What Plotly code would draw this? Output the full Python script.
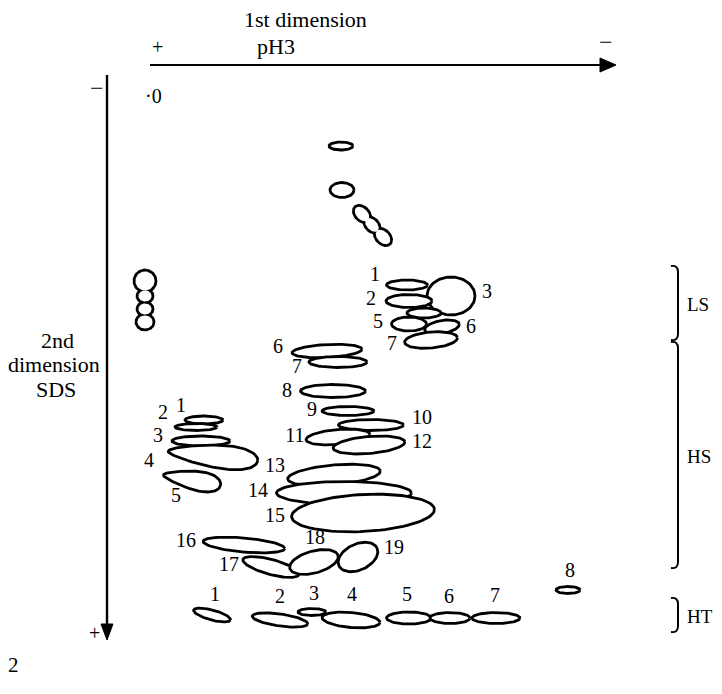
import numpy as np
import plotly.graph_objects as go

# ---- spot data (gel positions: x = 1st dimension, y = 2nd dimension) ----
spot_x = [341, 342, 362, 372, 383, 145, 145, 145, 145,
          451, 407, 409, 424, 409, 442, 431,
          204, 196, 201, 213, 192,
          327, 338, 333, 348, 371, 338, 369, 334, 344, 363, 244, 271, 314, 358,
          212, 280, 312, 351, 409, 450, 496, 568]
spot_y = [146, 190, 214, 225, 237, 281, 296, 309, 322,
          296, 285, 301, 313, 324, 327, 340,
          420, 427, 441, 456, 480,
          351, 362, 391, 411, 425, 437, 445, 475, 493, 513, 545, 567, 562, 557,
          615, 620, 612, 620, 618, 618, 618, 590]
spot_w = [24, 24, 20, 19, 20, 22, 16, 16, 18,
          48, 41, 46, 34, 35, 35, 53,
          38, 42, 58, 90, 58,
          70, 58, 65, 52, 65, 64, 72, 93, 135, 143, 82, 58, 50, 42,
          38, 56, 28, 58, 45, 40, 48, 24]
spot_h = [8, 15, 14, 13, 14, 22, 14, 14, 16,
          38, 10, 13, 10, 14, 13, 16,
          8, 7, 10, 22, 18,
          13, 11, 13, 9, 11, 15, 17, 20, 23, 37, 14, 15, 22, 26,
          10, 12, 7, 15, 12, 11, 11, 7]
spot_angle = [0, 0, 45, 45, 45, 0, 0, 0, 0,
              0, 0, 0, 0, 0, -10, -5,
              0, 0, 0, 6, 10,
              -3, 0, 0, 0, 0, -5, -5, -5, 0, -3, 5, 15, -15, -25,
              15, 8, 0, 5, 0, 0, 0, 0]
spot_egg = [0, 0, 0, 0, 0, 0, 0, 0, 0,
            0, 0, 0, 0, 0, 0, 0,
            0, 0, 0, 0.4, 0.45,
            0, 0, 0, 0, 0, 0, 0, 0, 0, 0, 0, 0, 0, 0,
            0, 0, 0, 0, 0, 0, 0, 0]
spot_group = ["", "", "chain", "chain", "chain", "streak", "streak", "streak", "streak",
              "", "", "", "", "", "", "",
              "", "", "", "", "",
              "", "", "", "", "", "", "", "", "", "", "", "", "", "",
              "", "", "", "", "", "", "", ""]

# ---- spot number labels ----
label_text = ["1", "2", "3", "5", "6", "7",
              "1", "2", "3", "4", "5",
              "6", "7", "8", "9", "10", "11", "12", "13", "14", "15", "16", "17", "18", "19",
              "1", "2", "3", "4", "5", "6", "7", "8"]
label_x = [375, 371, 487, 378, 471, 392,
           181, 163, 158, 149, 176,
           278, 297, 287, 312, 422, 295, 422, 275, 258, 275, 186, 229, 315, 394,
           215, 280, 314, 352, 407, 449, 495, 570]
label_y = [276, 300, 293, 323, 328, 345,
           407, 414, 437, 462, 497,
           348, 368, 392, 411, 419, 437, 443, 467, 492, 517, 542, 566, 539, 549,
           596, 598, 595, 596, 596, 598, 597, 572]

# ---- fraction brackets ----
bracket_name = ["LS", "HS", "HT"]
bracket_top = [266, 342, 598]
bracket_bottom = [340, 568, 632]

FONT = "Liberation Serif, DejaVu Serif, Times New Roman, serif"
LW = 2.8


def outline(cx, cy, w, h, ang, egg, grow=0.0, n=90):
    t = np.linspace(0, 2 * np.pi, n)
    x = (w / 2 + grow) * np.cos(t)
    y = (h / 2 + grow) * np.sin(t) * (1 + egg * np.cos(t))
    a = np.deg2rad(ang)
    return cx + x * np.cos(a) - y * np.sin(a), cy + x * np.sin(a) + y * np.cos(a)


fig = go.Figure()

# grouped spots drawn as merged outlines
for g in sorted(set(s for s in spot_group if s)):
    idx = [i for i, s in enumerate(spot_group) if s == g]
    for i in idx:
        xs, ys = outline(spot_x[i], spot_y[i], spot_w[i], spot_h[i], spot_angle[i], spot_egg[i], grow=LW / 2)
        fig.add_trace(go.Scatter(x=xs, y=ys, mode="lines", fill="toself", fillcolor="black",
                                 line=dict(width=0, color="black"), hoverinfo="skip", showlegend=False))
    for i in idx:
        xs, ys = outline(spot_x[i], spot_y[i], spot_w[i], spot_h[i], spot_angle[i], spot_egg[i], grow=-LW / 2)
        fig.add_trace(go.Scatter(x=xs, y=ys, mode="lines", fill="toself", fillcolor="white",
                                 line=dict(width=0, color="white"), hoverinfo="skip", showlegend=False))

for i in range(len(spot_x)):
    if spot_group[i]:
        continue
    xs, ys = outline(spot_x[i], spot_y[i], spot_w[i], spot_h[i], spot_angle[i], spot_egg[i])
    fig.add_trace(go.Scatter(x=xs, y=ys, mode="lines", fill="toself", fillcolor="white",
                             line=dict(width=LW, color="black"), hoverinfo="skip", showlegend=False))

# labels
fig.add_trace(go.Scatter(x=label_x, y=label_y, mode="text", text=label_text,
                         textfont=dict(family=FONT, size=20, color="black"),
                         hoverinfo="skip", showlegend=False))

shapes = []
# 1st dimension arrow
shapes.append(dict(type="line", x0=150, x1=603, y0=65, y1=65, line=dict(color="black", width=2)))
shapes.append(dict(type="path", path="M 600 58 L 616 65 L 600 72 Z", fillcolor="black",
                   line=dict(color="black", width=1)))
# 2nd dimension arrow
shapes.append(dict(type="line", x0=107, x1=107, y0=75, y1=627, line=dict(color="black", width=2.4)))
shapes.append(dict(type="path", path="M 101 624 L 107 640 L 113 624 Z", fillcolor="black",
                   line=dict(color="black", width=1)))
# brackets
for top, bot in zip(bracket_top, bracket_bottom):
    xb = 678
    p = (f"M {xb-7} {top} Q {xb} {top-1} {xb} {top+6} L {xb} {bot-6} "
         f"Q {xb} {bot+1} {xb-7} {bot}")
    shapes.append(dict(type="path", path=p, line=dict(color="black", width=2)))

annotations = []
def txt(x, y, s, size=22, xanchor="center"):
    annotations.append(dict(x=x, y=y, text=s, showarrow=False, xanchor=xanchor, yanchor="middle",
                            font=dict(family=FONT, size=size, color="black")))

txt(305, 19, "1st dimension")
txt(276, 46, "pH3")
txt(157, 47, "+", size=20)
txt(606, 42, "−", size=24)
txt(153, 96, "·0", size=20)
txt(97, 88, "−", size=24)
txt(94, 633, "+", size=20)
txt(57, 340, "2nd")
txt(54, 364, "dimension")
txt(56, 389, "SDS")
txt(13, 665, "2", size=21)
for name, top, bot in zip(bracket_name, bracket_top, bracket_bottom):
    txt(685, (top + bot) / 2 + 1, name, size=19, xanchor="left")

# the page body has an 8px margin, so shift ranges to keep 1 data unit = 1 screen pixel
fig.update_layout(
    width=722, height=694, margin=dict(l=0, r=0, t=0, b=0),
    paper_bgcolor="white", plot_bgcolor="white",
    font=dict(family=FONT),
    xaxis=dict(range=[8, 730], visible=False, fixedrange=True),
    yaxis=dict(range=[702, 8], visible=False, fixedrange=True),
    shapes=shapes, annotations=annotations,
)
fig.write_html("out.html")
